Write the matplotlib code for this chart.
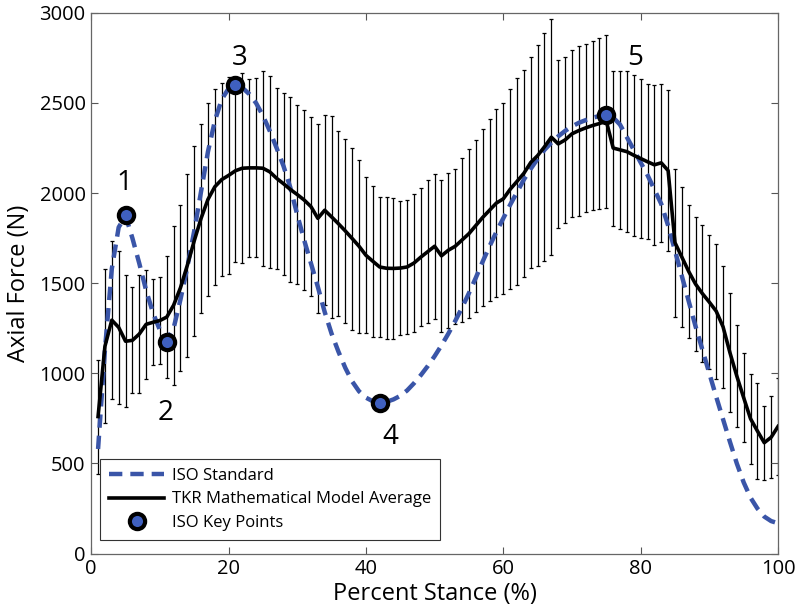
import numpy as np
import matplotlib
matplotlib.use("Agg")
import matplotlib.pyplot as plt

plt.rcParams['font.family'] = ['Open Sans', 'DejaVu Sans']

# percent stance, one sample per percent
stance = list(range(1, 101))

# TKR model average (N)
model_mean = [760, 1150, 1295, 1255, 1178, 1183, 1218, 1272, 1283, 1293,
              1312, 1378, 1475, 1600, 1735, 1860, 1965, 2035, 2075, 2098,
              2124, 2138, 2140, 2140, 2138, 2118, 2082, 2052, 2020, 1992,
              1962, 1925, 1860, 1905, 1868, 1830, 1790, 1748, 1705, 1655,
              1622, 1590, 1583, 1582, 1584, 1590, 1612, 1645, 1675, 1705,
              1652, 1683, 1705, 1740, 1775, 1820, 1865, 1905, 1945, 1968,
              2021, 2065, 2110, 2170, 2208, 2257, 2310, 2273, 2295, 2329,
              2347, 2362, 2375, 2386, 2400, 2250, 2240, 2230, 2210, 2192,
              2174, 2157, 2168, 2125, 1725, 1645, 1565, 1495, 1442, 1395,
              1345, 1258, 1115, 985, 865, 748, 680, 615, 645, 705]

# standard deviation of the model (N)
model_sd = [316, 428, 438, 426, 365, 295, 330, 303, 238, 240,
            338, 441, 460, 508, 526, 523, 534, 545, 536, 546,
            505, 528, 495, 497, 541, 531, 503, 506, 511, 496,
            497, 495, 526, 528, 560, 513, 511, 505, 480, 432,
            419, 388, 393, 391, 373, 373, 384, 381, 398, 403,
            423, 431, 430, 457, 467, 477, 491, 506, 521, 530,
            555, 575, 575, 586, 615, 634, 656, 467, 460, 464,
            472, 468, 467, 472, 480, 430, 440, 445, 447, 440,
            429, 445, 440, 445, 410, 390, 370, 372, 380, 370,
            375, 340, 330, 285, 248, 250, 265, 205, 228, 270]

# ISO standard axial force curve (N)
iso_force = [580, 1130, 1580, 1810, 1875, 1750, 1610, 1460, 1335, 1240,
             1185, 1250, 1410, 1590, 1790, 2010, 2230, 2400, 2520, 2580,
             2600, 2585, 2550, 2500, 2430, 2345, 2250, 2150, 2030, 1880,
             1740, 1610, 1480, 1340, 1220, 1120, 1030, 955, 900, 865,
             845, 838, 842, 855, 875, 905, 945, 990, 1040, 1095,
             1155, 1220, 1290, 1365, 1445, 1530, 1620, 1705, 1785, 1860,
             1935, 2005, 2075, 2135, 2190, 2240, 2280, 2315, 2345, 2370,
             2390, 2405, 2418, 2428, 2432, 2420, 2380, 2310, 2240, 2170,
             2100, 2020, 1940, 1820, 1680, 1540, 1400, 1260, 1130, 1000,
             870, 745, 620, 500, 395, 310, 250, 205, 180, 168]

# ISO key points
key_x = [5, 11, 21, 42, 75]
key_y = [1880, 1175, 2600, 838, 2432]
key_labels = ['1', '2', '3', '4', '5']
label_x = [4.8, 10.9, 21.6, 43.5, 79.2]
label_y = [2058, 779, 2751, 647, 2751]

fig = plt.figure(figsize=(8, 6.14), dpi=100)
ax = fig.add_axes([0.114, 0.0985, 0.8585, 0.8805])

ax.errorbar(stance, model_mean, yerr=model_sd, fmt='none', ecolor='black',
            elinewidth=0.9, capsize=1.6, capthick=0.9, zorder=1)
ax.plot(stance, iso_force, color='#3a55a8', lw=3.2, ls=(0, (3.0, 1.8)),
        label='ISO Standard', zorder=2)
ax.plot(stance, model_mean, color='black', lw=2.6,
        label='TKR Mathematical Model Average', zorder=3)
ax.plot(key_x, key_y, 'o', ms=11, mfc='#3f60c0', mec='black', mew=3,
        label='ISO Key Points', zorder=4)

for lx, ly, t in zip(label_x, label_y, key_labels):
    ax.text(lx, ly, t, fontsize=20, ha='center', va='center')

ax.set_xlim(0, 100)
ax.set_ylim(0, 3000)
ax.set_xticks(range(0, 101, 20))
ax.set_yticks(range(0, 3001, 500))
ax.tick_params(direction='in', length=5, width=0.8, color='#555555',
               labelsize=14.5, top=True, right=True, pad=4)
for sp in ax.spines.values():
    sp.set_color('#666666')
    sp.set_linewidth(0.9)

ax.set_xlabel('Percent Stance (%)', fontsize=17, labelpad=2)
ax.set_ylabel('Axial Force (N)', fontsize=17, labelpad=6)

leg = ax.legend(loc='lower left', bbox_to_anchor=(0.013, 0.025),
                borderaxespad=0, fontsize=12, fancybox=False,
                edgecolor='#333333', framealpha=1, handlelength=3.3,
                borderpad=0.55, labelspacing=0.45, handletextpad=0.45)
leg.get_frame().set_linewidth(0.8)

fig.savefig('out.png', dpi=100)
